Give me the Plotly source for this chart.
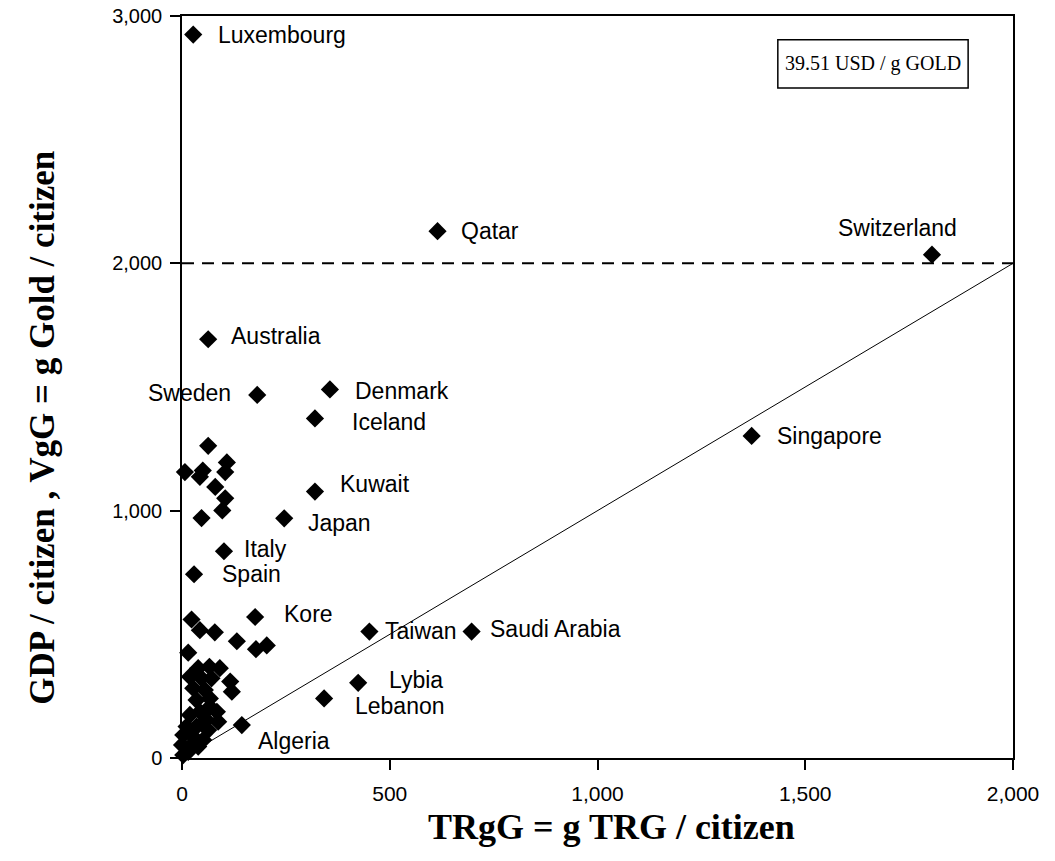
import plotly.graph_objects as go

# ---- data ----
label_names = ["Luxembourg", "Qatar", "Switzerland", "Australia", "Sweden", "Denmark",
               "Iceland", "Kuwait", "Japan", "Italy", "Spain", "Kore", "Taiwan",
               "Saudi Arabia", "Lybia", "Lebanon", "Singapore", "Algeria"]
label_trgg = [27, 615, 1805, 63, 181, 356, 320, 320, 246, 101, 29, 176, 451, 697, 424, 342, 1371, 144]
label_vgg = [2925, 2130, 2035, 1693, 1468, 1490, 1373, 1077, 969, 836, 743, 570, 511, 511, 304, 241, 1302, 133]

other_trgg = [63, 7, 50, 43, 108, 104, 80, 104, 97, 47,
              23, 15, 43, 79, 132, 178, 204,
              39, 66, 91, 116, 120, 19, 47, 71, 27, 55, 67, 35,
              67, 84, 43, 19, 59, 87, 11, 35, 63, 3, 27, 51, 0, 19, 39, 3, 15]
other_vgg = [1262, 1156, 1162, 1137, 1195, 1156, 1096, 1050, 1001, 970,
             560, 426, 517, 508, 472, 440, 455,
             363, 369, 363, 309, 268, 329, 322, 322, 282, 275, 241, 234,
             207, 187, 187, 174, 154, 147, 127, 127, 113, 93, 86, 73, 53, 46, 46, 12, 25]

parity_x = [0, 2000]
parity_y = [0, 2000]
gold_level = 2000
x_ticks = [0, 500, 1000, 1500, 2000]
y_ticks = [0, 1000, 2000, 3000]
box_text = "39.51 USD / g GOLD"
x_title = "TRgG = g TRG / citizen"
y_title = "GDP / citizen , VgG = g Gold / citizen"

# label placement (pixel offsets: dx, dy(up), anchor)
label_style = {
    "Luxembourg": (23, 0, "left"), "Qatar": (21, 0, "left"), "Switzerland": (-34, 27, "center"),
    "Australia": (21, 3, "left"), "Sweden": (-24, 2, "right"), "Denmark": (23, -2, "left"),
    "Iceland": (35, -4, "left"), "Kuwait": (23, 8, "left"), "Japan": (22, -5, "left"),
    "Italy": (18, 2, "left"), "Spain": (26, 0, "left"), "Kore": (27, 3, "left"),
    "Taiwan": (14, 1, "left"), "Saudi Arabia": (16, 3, "left"), "Lybia": (29, 3, "left"),
    "Lebanon": (29, -8, "left"), "Singapore": (23, 0, "left"), "Algeria": (14, -16, "left"),
}

SANS = "Liberation Sans, Arial, sans-serif"
SERIF = "Liberation Serif, Times New Roman, serif"

fig = go.Figure()
fig.add_trace(go.Scatter(x=parity_x, y=parity_y, mode="lines",
                         line=dict(color="black", width=1), hoverinfo="skip"))
fig.add_trace(go.Scatter(x=[parity_x[0], parity_x[-1]], y=[gold_level, gold_level], mode="lines",
                         line=dict(color="black", width=2, dash="12px,8px"), hoverinfo="skip"))
fig.add_trace(go.Scatter(x=other_trgg, y=other_vgg, mode="markers", cliponaxis=False,
                         marker=dict(symbol="diamond", size=14, color="black")))
fig.add_trace(go.Scatter(x=label_trgg, y=label_vgg, mode="markers", cliponaxis=False,
                         marker=dict(symbol="diamond", size=14, color="black")))

for n, xv, yv in zip(label_names, label_trgg, label_vgg):
    dx, dy, anc = label_style[n]
    fig.add_annotation(x=xv, y=yv, text=n, showarrow=False, xanchor=anc, yanchor="middle",
                       xshift=dx, yshift=dy, font=dict(family=SANS, size=23, color="black"))

# boxed price note
fig.add_shape(type="rect", xref="paper", yref="paper", x0=0.717, x1=0.946, y0=0.903, y1=0.968,
              line=dict(color="black", width=1.5), fillcolor="white", layer="above")
fig.add_annotation(xref="paper", yref="paper", x=0.8315, y=0.9355, text=box_text,
                   showarrow=False, xanchor="center", yanchor="middle",
                   font=dict(family=SERIF, size=20, color="black"))

# axis titles
fig.add_annotation(xref="paper", yref="paper", x=0.517, y=-0.093, text=x_title,
                   showarrow=False, xanchor="center", yanchor="middle",
                   font=dict(family=SERIF, size=36, color="black", weight="bold"))
fig.add_annotation(xref="paper", yref="paper", x=-0.1674, y=0.445, text=y_title,
                   showarrow=False, xanchor="center", yanchor="middle", textangle=-90,
                   font=dict(family=SERIF, size=35, color="black", weight="bold"))

axis_common = dict(showline=True, mirror=True, linecolor="black", linewidth=1.5,
                   ticks="outside", ticklen=10, tickcolor="black", tickwidth=1.5,
                   showgrid=False, zeroline=False, tickformat=",", automargin=False)

fig.update_xaxes(range=[0, 2000], tickvals=x_ticks, ticklabelstandoff=6,
                 tickfont=dict(family=SANS, size=21, color="black"), **axis_common)
fig.update_yaxes(range=[0, 3000], tickvals=y_ticks, ticklabelstandoff=4,
                 tickfont=dict(family=SANS, size=20, color="black"), **axis_common)

fig.update_layout(width=1055, height=861, showlegend=False,
                  plot_bgcolor="white", paper_bgcolor="white",
                  margin=dict(l=182, r=42, t=16, b=103))

fig.write_html("out.html", config={"displayModeBar": False},
               post_script="document.body.style.margin='0';")
